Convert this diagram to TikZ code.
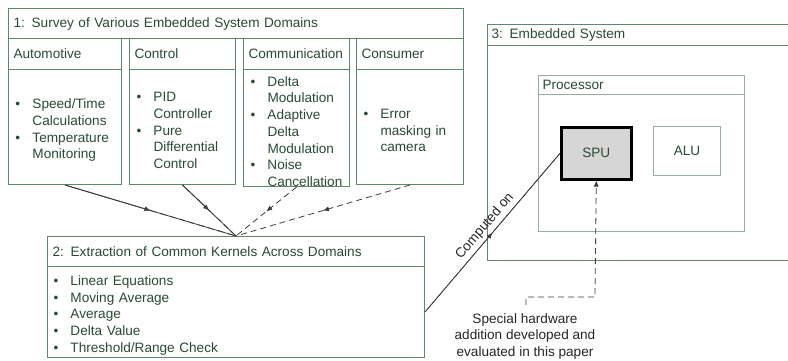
\documentclass[tikz,border=0pt]{standalone}
\usepackage{fontspec}
\setmainfont{Liberation Sans}
\usetikzlibrary{arrows.meta,decorations.markings,calc}
\definecolor{boxcol}{RGB}{95,135,105}
\definecolor{lightcol}{RGB}{150,175,158}
\definecolor{textcol}{RGB}{40,75,50}
\definecolor{linecol}{RGB}{60,60,60}
\newcommand{\mainf}{\fontsize{13.6}{16.7}\selectfont\hyphenpenalty=10000\exhyphenpenalty=10000\hbadness=10000\hfuzz=20pt}
\newcommand{\bl}[1]{\par\noindent\hangindent=17pt\hangafter=1\makebox[17pt][l]{\textbullet}#1\par}
\tikzset{
  panel/.style n args={3}{draw=boxcol, line width=1pt, anchor=north west,
    minimum width=#1, minimum height=#2, text width=#3, inner xsep=5pt,
    inner ysep=0pt, align=left, font=\mainf, text=textcol},
  conn/.style={draw=linecol, line width=0.8pt},
  midarrow/.style={postaction={decorate}, decoration={markings,
    mark=at position 0.5 with {\arrow{Latex[length=6pt,width=5pt]}}}},
}
\begin{document}
\begin{tikzpicture}[x=1pt,y=-1pt]
\clip (0,0) rectangle (788,360);
\fill[white] (0,0) rectangle (788,360);
% Box 1
\node[panel={455pt}{30pt}{445pt}] (b1t) at (8,8) {1: Survey of Various Embedded System Domains};
\node[panel={113pt}{31pt}{103pt}] (c1h) at (8,38) {Automotive};
\node[panel={106pt}{31pt}{96pt}] (c2h) at (129,38) {Control};
\node[panel={106pt}{31pt}{96pt}] (c3h) at (243,38) {Communication};
\node[panel={107pt}{31pt}{97pt}] (c4h) at (356,38) {Consumer};
\node[panel={113pt}{115pt}{99pt}, inner xsep=7pt] (c1b) at (8,69)
  {\bl{Speed/Time\newline Calculations}\bl{Temperature\newline Monitoring}};
\node[panel={106pt}{115pt}{92pt}, inner xsep=7pt] (c2b) at (129,69)
  {\bl{PID\newline Controller}\bl{Pure\newline Differential\newline Control}};
\node[panel={106pt}{115pt}{92pt}, inner xsep=7pt] (c3b) at (243,69)
  {\bl{Delta\newline Modulation}\bl{Adaptive\newline Delta\newline Modulation}\bl{Noise\newline Cancellation}};
\node[panel={107pt}{115pt}{93pt}, inner xsep=7pt] (c4b) at (356,69)
  {\bl{Error\newline masking in\newline camera}};
% Box 2
\node[panel={377pt}{30pt}{367pt}] (b2t) at (47,236) {2: Extraction of Common Kernels Across Domains};
\node[panel={377pt}{91pt}{365pt}, inner xsep=6pt] (b2b) at (47,266)
  {\bl{Linear Equations}\bl{Moving Average}\bl{Average}\bl{Delta Value}\bl{Threshold/Range Check}};
% Box 3
\node[panel={320pt}{21pt}{312pt}, inner xsep=4pt] (b3t) at (487,24) {3: Embedded System};
\node[panel={320pt}{215pt}{312pt}] (b3b) at (487,45) {};
\node[panel={206pt}{19pt}{198pt}, inner xsep=4pt, draw=lightcol] (pt) at (538,75) {Processor};
\node[panel={206pt}{137pt}{198pt}, inner xsep=4pt, draw=lightcol] (pb) at (538,94) {};
\node[draw=black, line width=2.6pt, fill=black!16, anchor=north west, minimum width=70pt,
  minimum height=52pt, inner sep=0pt, font=\mainf, text=textcol] (spu) at (560,126) {SPU};
\node[draw=lightcol, line width=1pt, anchor=north west, minimum width=67pt,
  minimum height=49pt, inner sep=0pt, font=\mainf, text=textcol] (alu) at (653,126) {ALU};
% converging arrows
\coordinate (k) at (b2t.north);
\path[midarrow, conn] (c1b.south) -- (k);
\draw[conn] (c1b.south) -- ($(c1b.south)!0.5!(k)$);
\draw[conn, dash pattern=on 6pt off 4pt] ($(c1b.south)!0.5!(k)$) -- (k);
\path[midarrow, conn] (c2b.south) -- (k);
\draw[conn] (c2b.south) -- ($(c2b.south)!0.5!(k)$);
\draw[conn, dash pattern=on 6pt off 4pt] ($(c2b.south)!0.5!(k)$) -- (k);
\draw[midarrow, conn, dash pattern=on 6pt off 4pt] (c3b.south) -- (k);
\draw[midarrow, conn, dash pattern=on 6pt off 4pt] (c4b.south) -- (k);
% computed on
\draw[draw=linecol, line width=0.7pt] (b2b.east) -- node[midway, sloped, yshift=10pt, font=\mainf, text=black!85] (lbl) {Computed on} (spu.west);
\path[midarrow, draw=linecol, line width=0.7pt] (b2b.east) -- (spu.west);
% special hardware
\node[align=center, font=\mainf, text=black!85, anchor=north, inner sep=0pt] (sh) at (525,313)
  {Special hardware\\addition developed and\\evaluated in this paper};
\coordinate (sht) at (526,305);
\draw[conn, dash pattern=on 6pt off 4pt, -{Latex[length=6pt,width=5pt]}] (sht) -- (526,297) -- (595,297) -- (spu.south);
\end{tikzpicture}
\end{document}
